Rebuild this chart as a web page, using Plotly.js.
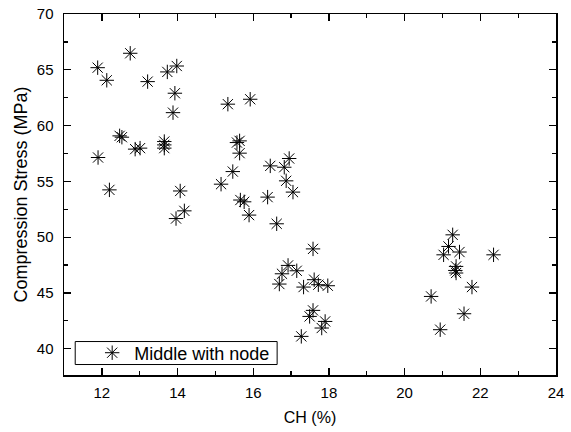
<!DOCTYPE html>
<html>
<head>
<meta charset="utf-8">
<script src="https://cdn.plot.ly/plotly-3.0.1.min.js"></script>
<style>html,body{margin:0;padding:0;background:#fff;}#chart{width:571px;height:432px;}</style>
</head>
<body>
<div id="chart"></div>
<script>
const seriesName = "Middle with node";
const chValues = [12.75, 11.89, 12.13, 13.21, 13.73, 13.98, 13.93, 13.88, 12.47, 12.53,
  12.88, 13.01, 13.65, 13.65, 13.65, 11.90, 12.20, 14.07, 14.18, 13.96,
  15.33, 15.92, 15.57, 15.64, 15.64, 15.46, 16.45, 16.82, 16.95, 16.87,
  17.05, 15.15, 15.66, 15.76, 16.38, 15.89, 16.62, 17.58, 16.92, 17.15,
  16.76, 16.69, 17.33, 17.61, 17.72, 17.97, 17.58, 17.49, 17.90, 17.81,
  17.27, 21.27, 21.16, 21.03, 21.45, 22.35, 21.36, 21.34, 21.36, 21.78,
  20.70, 21.57, 20.94];
const stressValues = [66.48, 65.19, 64.06, 63.94, 64.81, 65.34, 62.90, 61.16, 59.08, 58.96,
  57.89, 57.98, 58.57, 58.27, 57.98, 57.14, 54.24, 54.14, 52.36, 51.67,
  61.92, 62.36, 58.48, 58.63, 57.53, 55.88, 56.39, 56.27, 57.05, 55.05,
  54.04, 54.75, 53.33, 53.17, 53.59, 51.98, 51.20, 48.95, 47.47, 46.99,
  46.72, 45.80, 45.53, 46.19, 45.74, 45.65, 43.44, 42.90, 42.45, 41.86,
  41.11, 50.21, 49.17, 48.42, 48.67, 48.42, 47.38, 47.02, 46.79, 45.53,
  44.69, 43.14, 41.71];
const xTickVals = [12, 14, 16, 18, 20, 22, 24];
const yTickVals = [40, 45, 50, 55, 60, 65, 70];

const font = "Liberation Sans, Arial, sans-serif";

const trace = {
  x: chValues,
  y: stressValues,
  type: "scatter",
  mode: "markers",
  name: seriesName,
  marker: {symbol: "asterisk-open", size: 12, color: "#000", line: {color: "#000", width: 1}}
};

const axisCommon = {
  showline: true, linecolor: "#000", linewidth: 1.5, mirror: "allticks",
  ticks: "inside", ticklen: 7, tickwidth: 1.3, tickcolor: "#000",
  showgrid: false, zeroline: false,
  tickfont: {family: font, size: 15, color: "#000"}
};

const layout = {
  width: 571, height: 432,
  margin: {l: 64, r: 15, t: 14, b: 56.5},
  paper_bgcolor: "#fff", plot_bgcolor: "#fff",
  showlegend: true,
  xaxis: Object.assign({}, axisCommon, {
    range: [11, 24], tickmode: "array", tickvals: xTickVals,
    minor: {ticks: "inside", ticklen: 4, tickwidth: 1.2, tickcolor: "#000", dtick: 1, showgrid: false},
    ticklabelstandoff: 3,
    title: {text: "CH (%)", font: {family: font, size: 16, color: "#000"}, standoff: 12}
  }),
  yaxis: Object.assign({}, axisCommon, {
    range: [37.65, 70], tickmode: "array", tickvals: yTickVals,
    minor: {ticks: "inside", ticklen: 4, tickwidth: 1.2, tickcolor: "#000", dtick: 2.5, tick0: 0, showgrid: false},
    ticklabelstandoff: 6,
    title: {text: "Compression Stress (MPa)", font: {family: font, size: 18, color: "#000"}, standoff: 4}
  }),
  shapes: [{
    type: "rect", xref: "paper", yref: "paper",
    x0: 0.0228, x1: 0.4332, y0: 0.029, y1: 0.0927,
    line: {color: "#000", width: 1}, fillcolor: "#fff", layer: "below"
  }],
  legend: {
    x: 0.0532, y: 0.0609, xanchor: "left", yanchor: "middle",
    bgcolor: "rgba(0,0,0,0)", borderwidth: 0,
    itemwidth: 34,
    font: {family: font, size: 18, color: "#000"}
  }
};

Plotly.newPlot("chart", [trace], layout, {staticPlot: true, displayModeBar: false});
</script>
</body>
</html>
